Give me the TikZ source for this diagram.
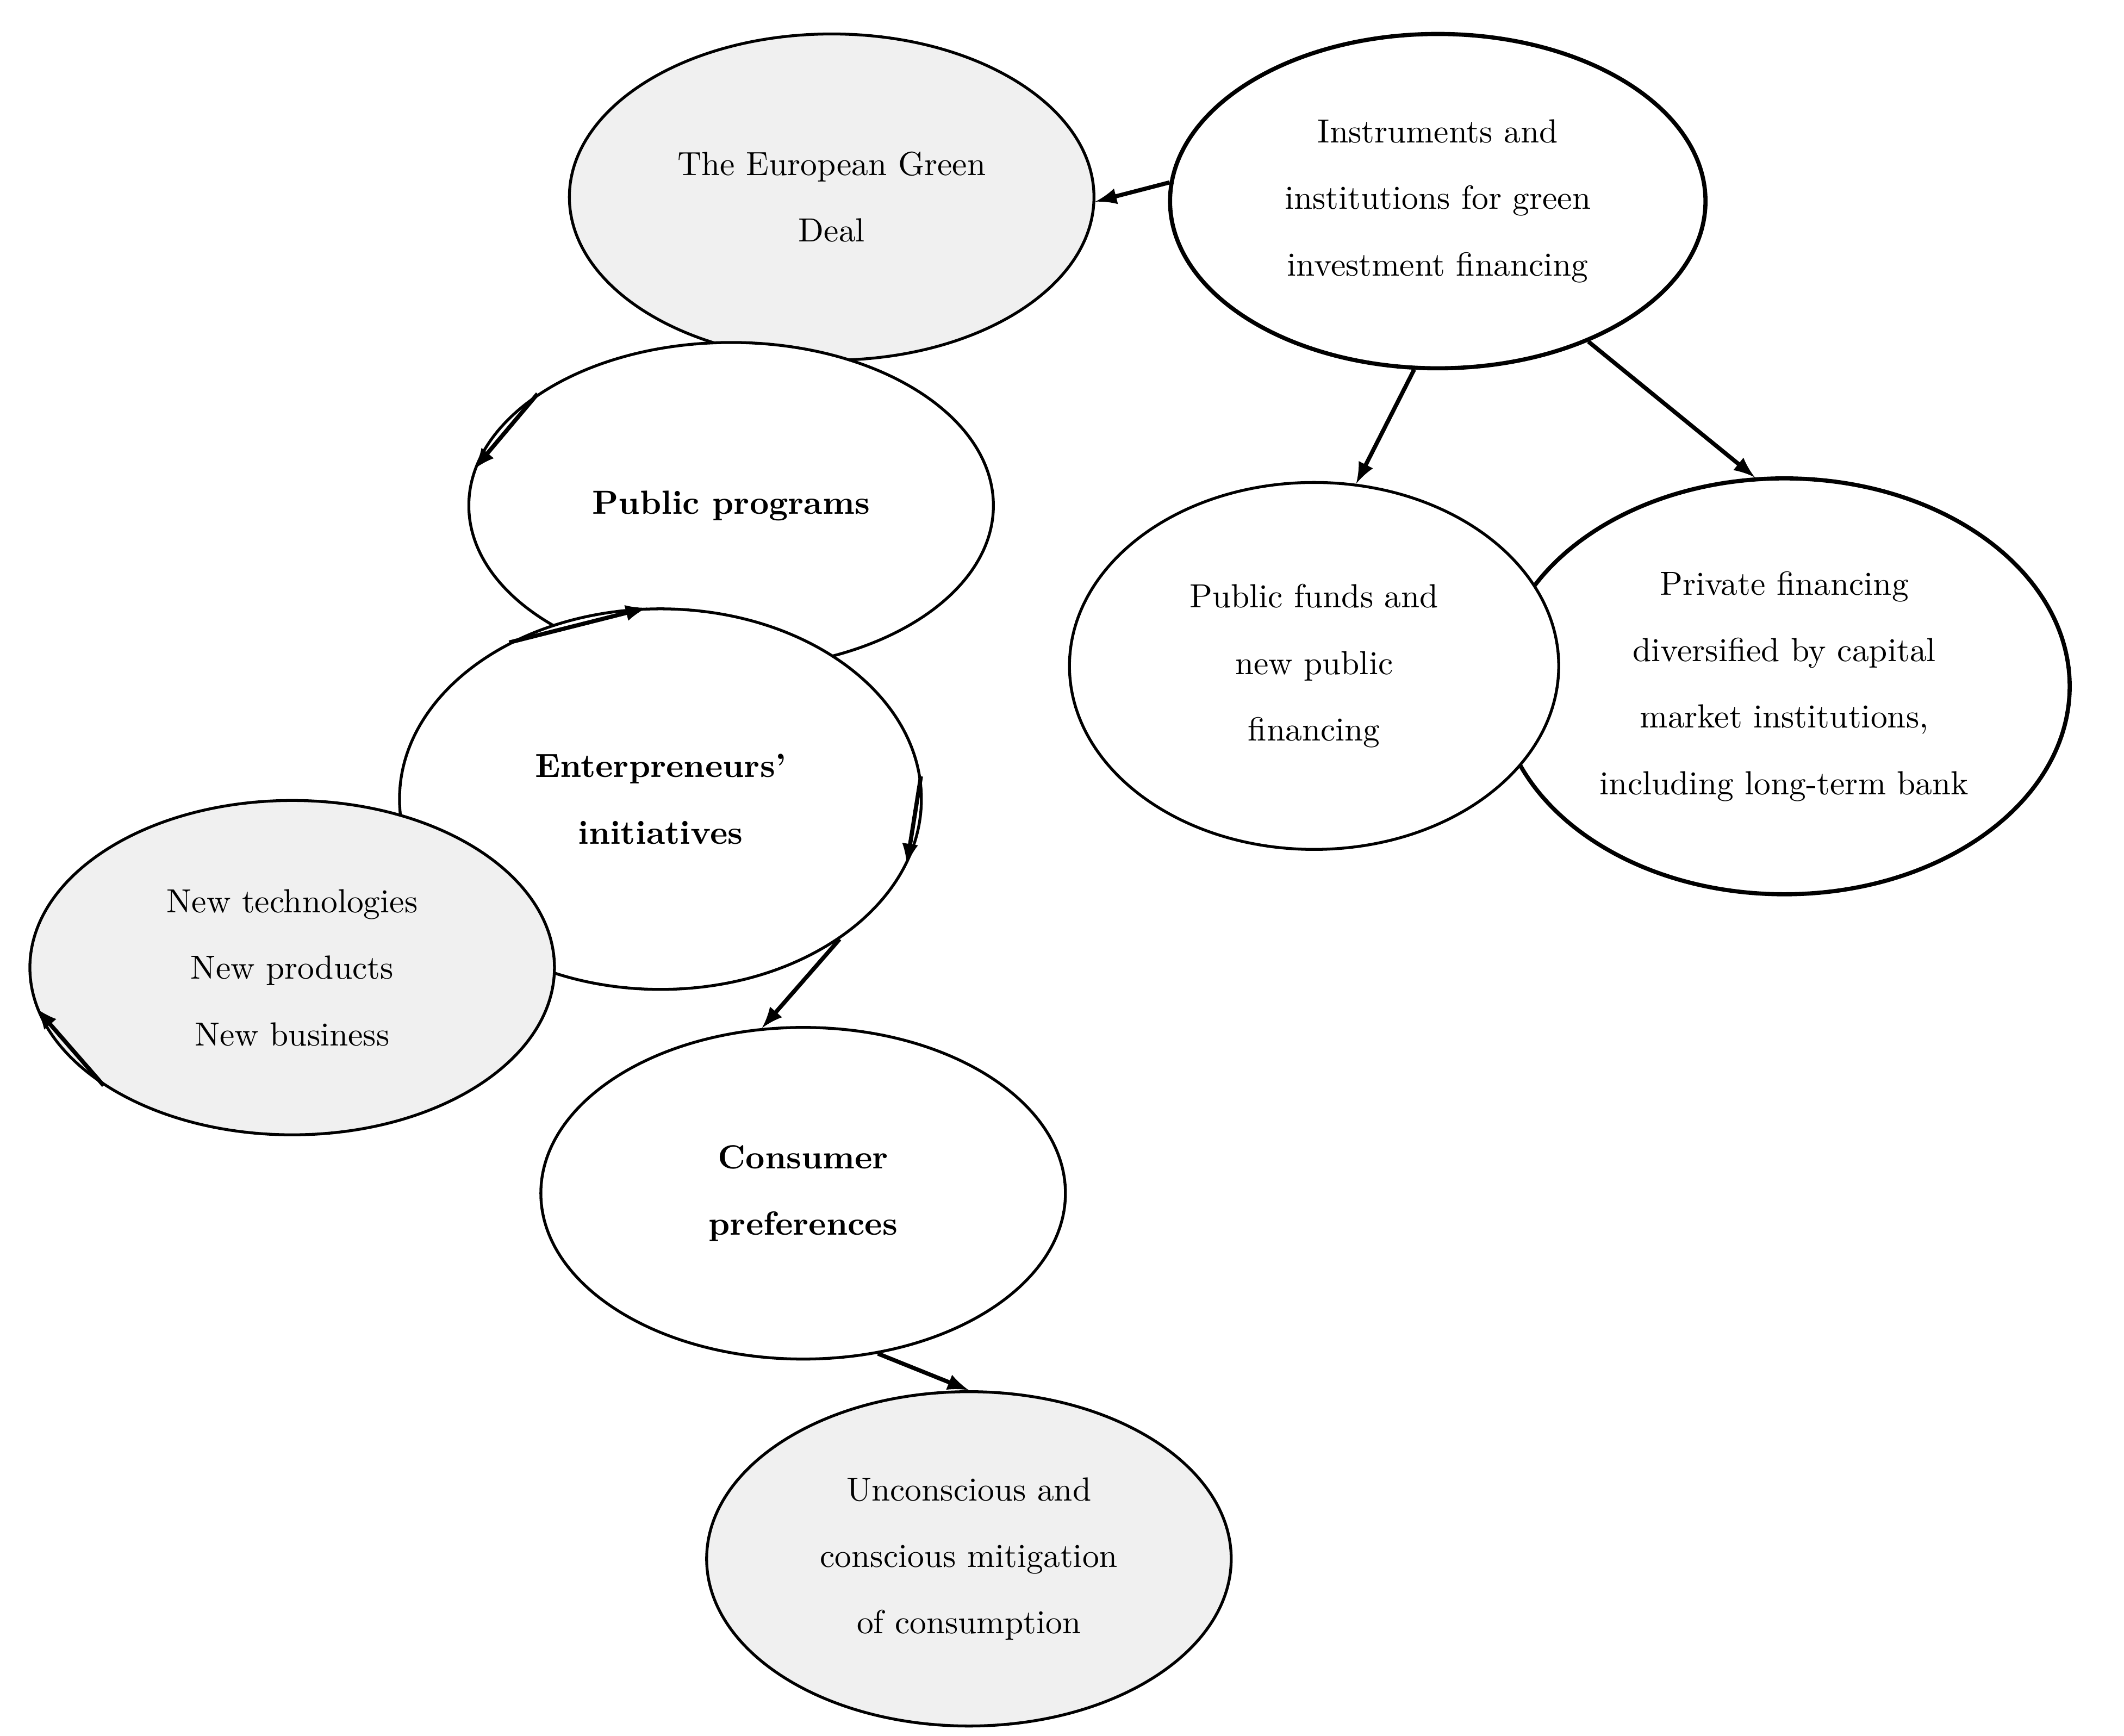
\documentclass[tikz,border=0pt]{standalone}
\usepackage{tikz}
\usetikzlibrary{arrows}
\usetikzlibrary{shapes.geometric}

\begin{document}
\begin{tikzpicture}[
    x=0.015cm, y=-0.015cm,
    bubble/.style={%
      draw,
      ellipse,
      line width=0.9pt,
      fill=white,
      inner sep=0pt,
      align=center,
      font=\fontsize{10.5}{20.9}\selectfont,
    },
    shaded/.style={%
      bubble,
      fill=gray!12,
    },
    link/.style={%
      -latex,
      line width=1.3pt,
    },
  ]
    \useasboundingbox (0,0) rectangle (1563,1277);

    \node [shaded, minimum width=386\pgflinewidth, minimum width=5.79cm, minimum height=3.6cm] (deal) at (612,145) {The European Green\\Deal};
    \node [bubble, line width=1.3pt, minimum width=5.91cm, minimum height=3.69cm] (instr) at (1058,148) {Instruments and\\institutions for green\\investment financing};
    \node [bubble, minimum width=5.79cm, minimum height=3.6cm] (prog) at (538,372) {\textbf{Public programs}};
    \node [bubble, minimum width=5.76cm, minimum height=4.2cm] (entr) at (486,588) {\textbf{Enterpreneurs'}\\\textbf{initiatives}};
    \node [shaded, minimum width=5.79cm, minimum height=3.69cm] (tech) at (215,712) {New technologies\\New products\\New business};
    \node [bubble, line width=1.3pt, minimum width=6.3cm, minimum height=4.59cm] (priv) at (1313,505) {Private financing\\diversified by capital\\market institutions,\\including long-term bank};
    \node [bubble, minimum width=5.4cm, minimum height=4.05cm] (pub) at (967,490) {Public funds and\\new public\\financing};
    \node [bubble, minimum width=5.79cm, minimum height=3.66cm] (cons) at (591,878) {\textbf{Consumer}\\\textbf{preferences}};
    \node [shaded, minimum width=5.79cm, minimum height=3.69cm] (unc) at (713,1147) {Unconscious and\\conscious mitigation\\of consumption};

    \draw [link] (instr.176) -- (deal.359);
    \draw [link] (instr.262) -- (pub.77);
    \draw [link] (instr.317) -- (priv.98);
    \draw [link] (prog.150) -- (prog.172);
    \draw [link] (entr.134) -- (entr.94);
    \draw [link] (entr.5) -- (entr.-15);
    \draw [link] (entr.-38) -- (cons.104);
    \draw [link] (tech.212) -- (tech.189);
    \draw [link] (cons.295) -- (unc.90);
\end{tikzpicture}
\end{document}
